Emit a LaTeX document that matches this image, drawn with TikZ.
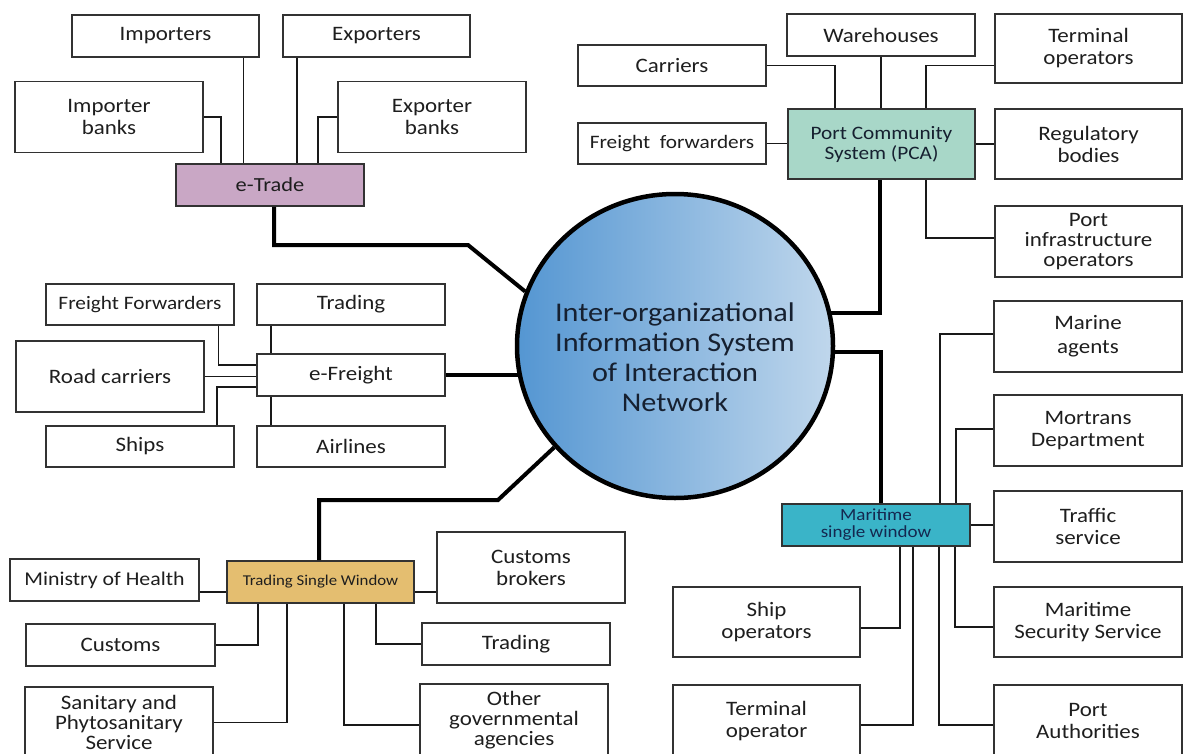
\documentclass[tikz,border=0pt]{standalone}
\usepackage{fontspec}
\setmainfont{Carlito}[FakeStretch=1.12]
\usetikzlibrary{shapes.geometric}
\definecolor{etradefill}{RGB}{201,167,197}
\definecolor{pcafill}{RGB}{168,215,200}
\definecolor{tswfill}{RGB}{228,190,112}
\definecolor{mswfill}{RGB}{58,180,200}
\definecolor{hubL}{RGB}{84,150,210}
\definecolor{hubR}{RGB}{192,215,236}
\definecolor{boxline}{RGB}{50,50,50}
\definecolor{txt}{RGB}{30,30,30}
\definecolor{navytxt}{RGB}{20,40,80}
\definecolor{hubtxt}{RGB}{22,32,48}
\begin{document}
\begin{tikzpicture}[x=1pt,y=-1pt,
  box/.style={draw=boxline, line width=1.6pt, fill=white, inner sep=0pt, align=center, text=txt, minimum width=188pt, font=\fontsize{20.5}{22}\selectfont},
  hbox/.style={box, minimum height=42pt},
  tbox/.style={box, minimum height=71pt},
  conn/.style={line width=1.8pt, black!90},
  mainconn/.style={line width=4pt, black},
]
\clip (0,0) rectangle (1187,753);
\fill[white] (0,0) rectangle (1187,753);

% hub
\node[ellipse, minimum width=316pt, minimum height=304pt, inner sep=0pt, left color=hubL, right color=hubR, draw=black, line width=4.5pt] (hub) at (675,346) {};
\node[align=center, font=\fontsize{27}{30}\selectfont, text=hubtxt] (hubtext) at (675,357) {Inter-organizational\\Information System\\of Interaction\\Network};

% e-Trade group
\node[hbox, minimum width=187pt] (imp) at (165.5,36) {Importers};
\node[hbox, minimum width=187pt] (exp) at (376.5,36) {Exporters};
\node[tbox] (impb) at (109,117) {Importer\\banks};
\node[tbox] (expb) at (432,117) {Exporter\\banks};
\node[hbox, fill=etradefill, font=\fontsize{20}{22}\selectfont] (etrade) at (270,185) {e-Trade};

\coordinate (a1) at (221,0);
\coordinate (a2) at (243.5,0);
\coordinate (a3) at (297,0);
\coordinate (a4) at (318,0);
\coordinate (a5) at (274,245);
\coordinate (a6) at (468,245);
\draw[conn] (impb.east) -| (etrade.north -| a1);
\draw[conn] (imp.south -| a2) -- (etrade.north -| a2);
\draw[conn] (exp.south -| a3) -- (etrade.north -| a3);
\draw[conn] (expb.west) -| (etrade.north -| a4);
\draw[mainconn] (etrade.south -| a5) |- (a6) -- (hub.160);

% PCA group
\node[box, minimum height=41pt] (carriers) at (672,65.5) {Carriers};
\node[hbox] (wareh) at (881,35) {Warehouses};
\node[box, minimum width=187pt, minimum height=69pt] (termops) at (1088.5,48.5) {Terminal\\operators};
\node[box, minimum height=41pt, font=\fontsize{19}{20}\selectfont] (ffwd) at (672,143.5) {Freight~ forwarders};
\node[box, minimum width=187pt, minimum height=70pt, fill=pcafill, text=hubtxt, font=\fontsize{19}{20}\selectfont] (pca) at (881.5,144) {Port Community\\System (PCA)};
\node[box, minimum width=187pt, minimum height=70pt] (reg) at (1088.5,144) {Regulatory\\bodies};
\node[box, minimum width=187pt, minimum height=71pt, font=\fontsize{20.5}{20}\selectfont] (portinfra) at (1088.5,241.5) {Port\\infrastructure\\operators};

\coordinate (b1) at (835,0);
\coordinate (b2) at (926,0);
\coordinate (b3) at (880,0);
\coordinate (b4) at (0,238);
\draw[conn] (carriers.east) -| (pca.north -| b1);
\draw[conn] (wareh.south) -- (wareh.south |- pca.north);
\draw[conn] (termops.west |- carriers.east) -| (pca.north -| b2);
\draw[conn] (ffwd.east) -- (ffwd.east -| pca.west);
\draw[conn] (pca.east) -- (pca.east -| reg.west);
\draw[conn] (pca.south -| b2) |- (portinfra.west |- b4);
\draw[mainconn] (pca.south -| b3) |- (hub.12);

% e-Freight group
\node[box, minimum height=41pt, font=\fontsize{19}{20}\selectfont] (ffl) at (140,304.5) {Freight Forwarders};
\node[box, minimum height=41pt] (trad1) at (351,304.5) {Trading};
\node[tbox] (road) at (110,376.5) {Road carriers};
\node[hbox] (efreight) at (351,375) {e-Freight};
\node[box, minimum height=41pt] (ships) at (140,446.5) {Ships};
\node[box, minimum height=41pt] (airl) at (351,446.5) {Airlines};

\coordinate (c1) at (218.5,365);
\coordinate (c2) at (217,387);
\coordinate (c3) at (271,0);
\draw[conn] (ffl.south -| c1) |- (efreight.west |- c1);
\draw[conn] (road.east) -- (road.east -| efreight.west);
\draw[conn] (ships.north -| c2) |- (efreight.west |- c2);
\draw[conn] (trad1.south -| c3) -- (efreight.north -| c3);
\draw[conn] (efreight.south -| c3) -- (airl.north -| c3);
\draw[mainconn] (efreight.east) -- (efreight.east -| hub.191);

% Trading Single Window group
\node[box, minimum width=189pt, minimum height=42pt, font=\fontsize{19.5}{20}\selectfont] (moh) at (104.5,580) {Ministry of Health};
\node[box, minimum width=187pt, minimum height=42pt, fill=tswfill, font=\fontsize{15}{16}\selectfont] (tsw) at (320.5,582) {Trading Single Window};
\node[tbox] (cbrok) at (531,567.5) {Customs\\brokers};
\node[box, minimum width=189pt, minimum height=42pt] (customs) at (120.5,645) {Customs};
\node[hbox] (trad2) at (516,644) {Trading};
\node[tbox, font=\fontsize{20.5}{20}\selectfont] (sps) at (119,722.5) {Sanitary and\\Phytosanitary\\Service};
\node[box, minimum height=72pt, font=\fontsize{20.5}{20}\selectfont] (ogov) at (514,720) {Other\\governmental\\agencies};

\coordinate (d0) at (0,592);
\coordinate (d1) at (258,0);
\coordinate (d2) at (287,0);
\coordinate (d3) at (344,0);
\coordinate (d4) at (376,0);
\coordinate (d5) at (319,500);
\coordinate (d6) at (498,500);
\coordinate (d7) at (0,725);
\draw[conn] (moh.east |- d0) -- (tsw.west |- d0);
\draw[conn] (tsw.east |- d0) -- (cbrok.west |- d0);
\draw[conn] (customs.east) -| (tsw.south -| d1);
\draw[conn] (sps.east) -| (tsw.south -| d2);
\draw[conn] (tsw.south -| d3) |- (ogov.west |- d7);
\draw[conn] (tsw.south -| d4) |- (trad2.west);
\draw[mainconn] (tsw.north -| d5) |- (d6) -- (hub.220);

% Maritime single window group
\node[tbox, font=\fontsize{20.5}{24}\selectfont] (marine) at (1088,336.5) {Marine\\agents};
\node[tbox] (mortr) at (1088,430.5) {Mortrans\\Department};
\node[tbox] (traffic) at (1088,526.5) {Traffic\\service};
\node[box, minimum height=70pt] (mss) at (1088,622) {Maritime\\Security Service};
\node[box, minimum height=72pt] (porta) at (1088,721) {Port\\Authorities};
\node[box, minimum width=187pt, minimum height=70pt] (shipop) at (766.5,622) {Ship\\operators};
\node[box, minimum width=187pt, minimum height=72pt] (termop) at (766.5,721) {Terminal\\operator};
\node[hbox, fill=mswfill, text=navytxt, font=\fontsize{17}{17}\selectfont] (msw) at (876,525) {Maritime\\single window};

\coordinate (e1) at (940,334);
\coordinate (e2) at (956,429);
\coordinate (e3) at (955,627);
\coordinate (e4) at (939,725);
\coordinate (e5) at (900,628);
\coordinate (e6) at (913,725);
\coordinate (e7) at (881,0);
\draw[conn] (msw.north -| e1) |- (marine.west |- e1);
\draw[conn] (msw.north -| e2) |- (mortr.west |- e2);
\draw[conn] (msw.east) -- (msw.east -| traffic.west);
\draw[conn] (msw.south -| e3) |- (mss.west |- e3);
\draw[conn] (msw.south -| e4) |- (porta.west |- e4);
\draw[conn] (msw.south -| e5) |- (shipop.east |- e5);
\draw[conn] (msw.south -| e6) |- (termop.east |- e6);
\draw[mainconn] (hub.358) -| (msw.north -| e7);
\end{tikzpicture}
\end{document}
